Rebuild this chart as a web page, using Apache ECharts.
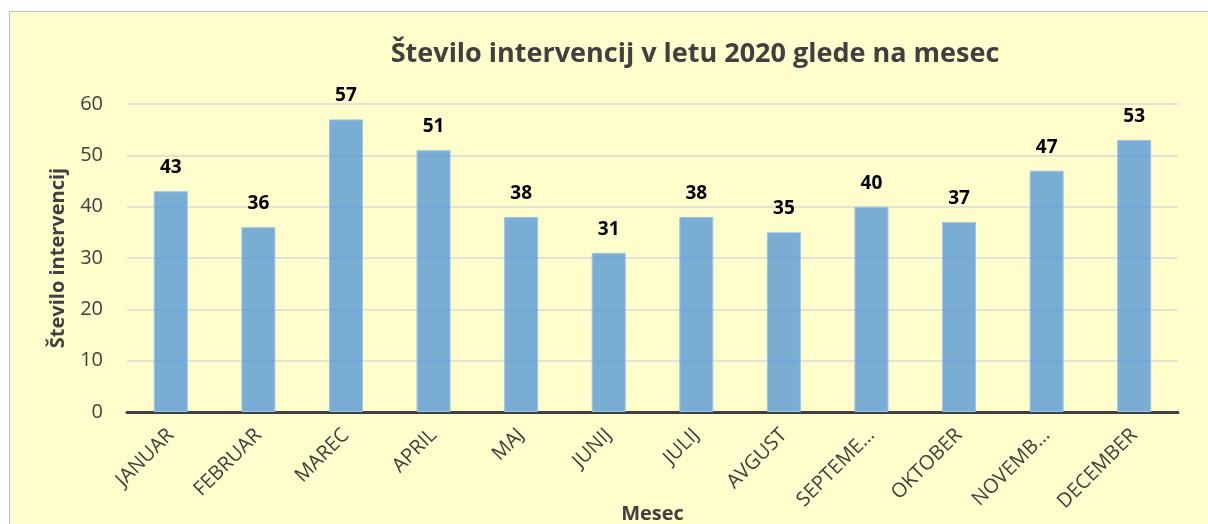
<!DOCTYPE html>
<html>
<head>
<meta charset="utf-8">
<script src="https://cdn.jsdelivr.net/npm/echarts@6/dist/echarts.min.js"></script>
<style>
  html, body { margin: 0; padding: 0; background: #fff; }
  #frame {
    position: absolute; left: 9px; top: 11px; width: 1210px; height: 520px;
    border: 1px solid #bfbfbf; background: #fffdcc; box-sizing: border-box;
  }
  #chart { position: absolute; left: 0; top: 0; width: 1208px; height: 524px; }
</style>
</head>
<body>
<div id="frame"></div>
<div id="chart"></div>
<script>
const months = ['JANUAR', 'FEBRUAR', 'MAREC', 'APRIL', 'MAJ', 'JUNIJ', 'JULIJ', 'AVGUST', 'SEPTEME…', 'OKTOBER', 'NOVEMB…', 'DECEMBER']
const interventions = [43, 36, 57, 51, 38, 31, 38, 35, 40, 37, 47, 53]

const chart = echarts.init(document.getElementById('chart'))

chart.setOption({
  backgroundColor: 'transparent',
  title: {
    text: 'Število intervencij v letu 2020 glede na mesec',
    left: 690,
    top: 36,
    textAlign: 'center',
    textStyle: { fontFamily: 'Open Sans', fontWeight: 'bold', fontSize: 27, color: '#404040' },
  },
  grid: { left: 127, right: 30, top: 104, bottom: 112, outerBoundsMode: 'none' },
  xAxis: {
    type: 'category',
    data: months,
    name: 'Mesec',
    nameLocation: 'middle',
    nameGap: 92,
    nameMoveOverlap: false,
    nameTextStyle: { fontFamily: 'Open Sans', fontWeight: 'bold', fontSize: 20, color: '#404040' },
    axisLine: { lineStyle: { color: '#404040', width: 3 } },
    axisTick: { show: false },
    axisLabel: {
      rotate: 45, interval: 0, margin: 20,
      fontFamily: 'Open Sans', fontSize: 20, color: '#404040',
    },
  },
  yAxis: {
    type: 'value',
    min: 0, max: 60, interval: 10,
    name: 'Število intervencij',
    nameLocation: 'middle',
    nameGap: 59,
    nameMoveOverlap: false,
    nameTextStyle: { fontFamily: 'Open Sans', fontWeight: 'bold', fontSize: 20, color: '#404040' },
    axisLine: { show: false },
    axisTick: { show: false },
    axisLabel: { margin: 24, fontFamily: 'Open Sans', fontSize: 20, color: '#404040' },
    splitLine: { lineStyle: { color: '#d9d9d9', width: 1.5 } },
  },
  series: [{
    type: 'bar',
    data: interventions,
    barWidth: 34,
    itemStyle: { color: 'rgba(91,155,213,0.82)', borderColor: '#9dc3e6', borderWidth: 1 },
    label: {
      show: true, position: 'top', distance: 14,
      fontFamily: 'Open Sans', fontWeight: 'bold', fontSize: 19, color: '#000',
    },
  }],
})
</script>
</body>
</html>
